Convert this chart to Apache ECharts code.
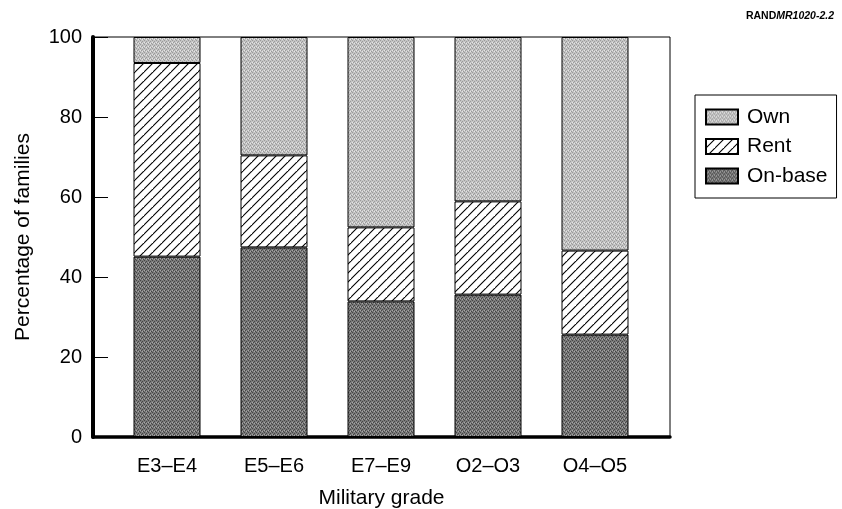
<!DOCTYPE html>
<html>
<head>
<meta charset="utf-8">
<script src="https://cdn.jsdelivr.net/npm/echarts@6/dist/echarts.min.js"></script>
<style>
html,body{margin:0;padding:0;background:#fff;}
#chart{width:842px;height:509px;}
</style>
</head>
<body>
<div id="chart"></div>
<script>
// ---- data ----
const categories = ['E3–E4', 'E5–E6', 'E7–E9', 'O2–O3', 'O4–O5'];
const onBase = [45.1, 47.4, 33.9, 35.6, 25.6];
const rent   = [48.4, 23.0, 18.5, 23.3, 21.0];
const own    = [6.5, 29.6, 47.6, 41.1, 53.4];
const seriesNames = ['Own', 'Rent', 'On-base'];
const yMin = 0, yMax = 100, yStep = 20;

// ---- fill patterns ----
function stipple(base, dot, light) {
  const c = document.createElement('canvas');
  c.width = 4; c.height = 4;
  const g = c.getContext('2d');
  g.fillStyle = base; g.fillRect(0, 0, 4, 4);
  g.fillStyle = dot;
  [[0,0],[2,1],[1,2],[3,3]].forEach(p => g.fillRect(p[0], p[1], 1, 1));
  g.fillStyle = light;
  [[2,3],[0,2]].forEach(p => g.fillRect(p[0], p[1], 1, 1));
  return c;
}
function hatch() {
  const s = 9;
  const c = document.createElement('canvas');
  c.width = s; c.height = s;
  const g = c.getContext('2d');
  g.fillStyle = '#fff'; g.fillRect(0, 0, s, s);
  g.strokeStyle = '#000'; g.lineWidth = 1.1;
  g.beginPath();
  g.moveTo(-1, s + 1); g.lineTo(s + 1, -1);
  g.moveTo(-1 - s, s + 1); g.lineTo(1, -1);
  g.moveTo(s - 1, 2 * s + 1); g.lineTo(2 * s + 1, s - 1);
  g.stroke();
  return c;
}
const ownFill = { image: stipple('#c4c4c4', '#9a9a9a', '#e6e6e6'), repeat: 'repeat' };
const rentFill = { image: hatch(), repeat: 'repeat' };
const baseFill = { image: stipple('#7a7a7a', '#454545', '#a8a8a8'), repeat: 'repeat' };

const font = 'Liberation Sans, Arial, Helvetica, sans-serif';
const chart = echarts.init(document.getElementById('chart'), null, { renderer: 'canvas' });

const barStyle = (fill) => ({ color: fill, borderColor: '#000', borderWidth: 1 });

chart.setOption({
  animation: false,
  backgroundColor: '#fff',
  textStyle: { fontFamily: font, color: '#000' },
  title: {
    text: '{a|RAND}{b|MR1020-2.2}',
    right: 3, top: 6,
    textStyle: {
      rich: {
        a: { fontFamily: font, fontWeight: 'bold', fontSize: 10.5, color: '#000' },
        b: { fontFamily: font, fontStyle: 'italic', fontSize: 10.5, color: '#000' }
      }
    }
  },
  legend: {
    data: seriesNames,
    orient: 'vertical',
    left: 695, top: 95,
    padding: [11, 9, 11, 10],
    itemGap: 7.5,
    itemWidth: 32, itemHeight: 15,
    icon: 'rect',
    borderColor: '#000', borderWidth: 1,
    textStyle: { fontFamily: font, fontSize: 21, lineHeight: 22, color: '#000', padding: [0, 0, 0, 4] }
  },
  grid: [
    { left: 93, top: 37, width: 577, height: 400, show: true, borderColor: '#000', borderWidth: 1,
      backgroundColor: 'transparent', containLabel: false, outerBoundsMode: 'none' },
    { left: 113.5, top: 37, width: 535, height: 400, containLabel: false, outerBoundsMode: 'none' }
  ],
  xAxis: [
    { type: 'value', gridIndex: 0, min: 0, max: 1,
      axisLine: { show: true, lineStyle: { color: '#000', width: 3.5 } },
      axisTick: { show: false }, axisLabel: { show: false }, splitLine: { show: false },
      name: 'Military grade', nameLocation: 'middle', nameGap: 51,
      nameTextStyle: { fontFamily: font, fontSize: 21, color: '#000' } },
    { type: 'category', gridIndex: 1, data: categories,
      axisLine: { show: false }, axisTick: { show: false },
      axisLabel: { fontFamily: font, fontSize: 20, color: '#000', margin: 19 } }
  ],
  yAxis: [
    { type: 'value', gridIndex: 0, min: yMin, max: yMax, interval: yStep,
      axisLine: { show: true, lineStyle: { color: '#000', width: 4 } },
      axisTick: { show: true, inside: true, length: 15, lineStyle: { color: '#000', width: 1 } },
      axisLabel: { fontFamily: font, fontSize: 20, color: '#000', margin: 11 },
      splitLine: { show: false },
      name: 'Percentage of families', nameLocation: 'middle', nameGap: 59,
      nameTextStyle: { fontFamily: font, fontSize: 21, color: '#000' } },
    { type: 'value', gridIndex: 1, min: yMin, max: yMax, show: false }
  ],
  series: [
    { name: 'On-base', type: 'bar', stack: 'a', xAxisIndex: 1, yAxisIndex: 1, barWidth: 67, data: onBase, itemStyle: barStyle(baseFill) },
    { name: 'Rent', type: 'bar', stack: 'a', xAxisIndex: 1, yAxisIndex: 1, barWidth: 67, data: rent, itemStyle: barStyle(rentFill) },
    { name: 'Own', type: 'bar', stack: 'a', xAxisIndex: 1, yAxisIndex: 1, barWidth: 67, data: own, itemStyle: barStyle(ownFill) }
  ]
});
</script>
</body>
</html>
